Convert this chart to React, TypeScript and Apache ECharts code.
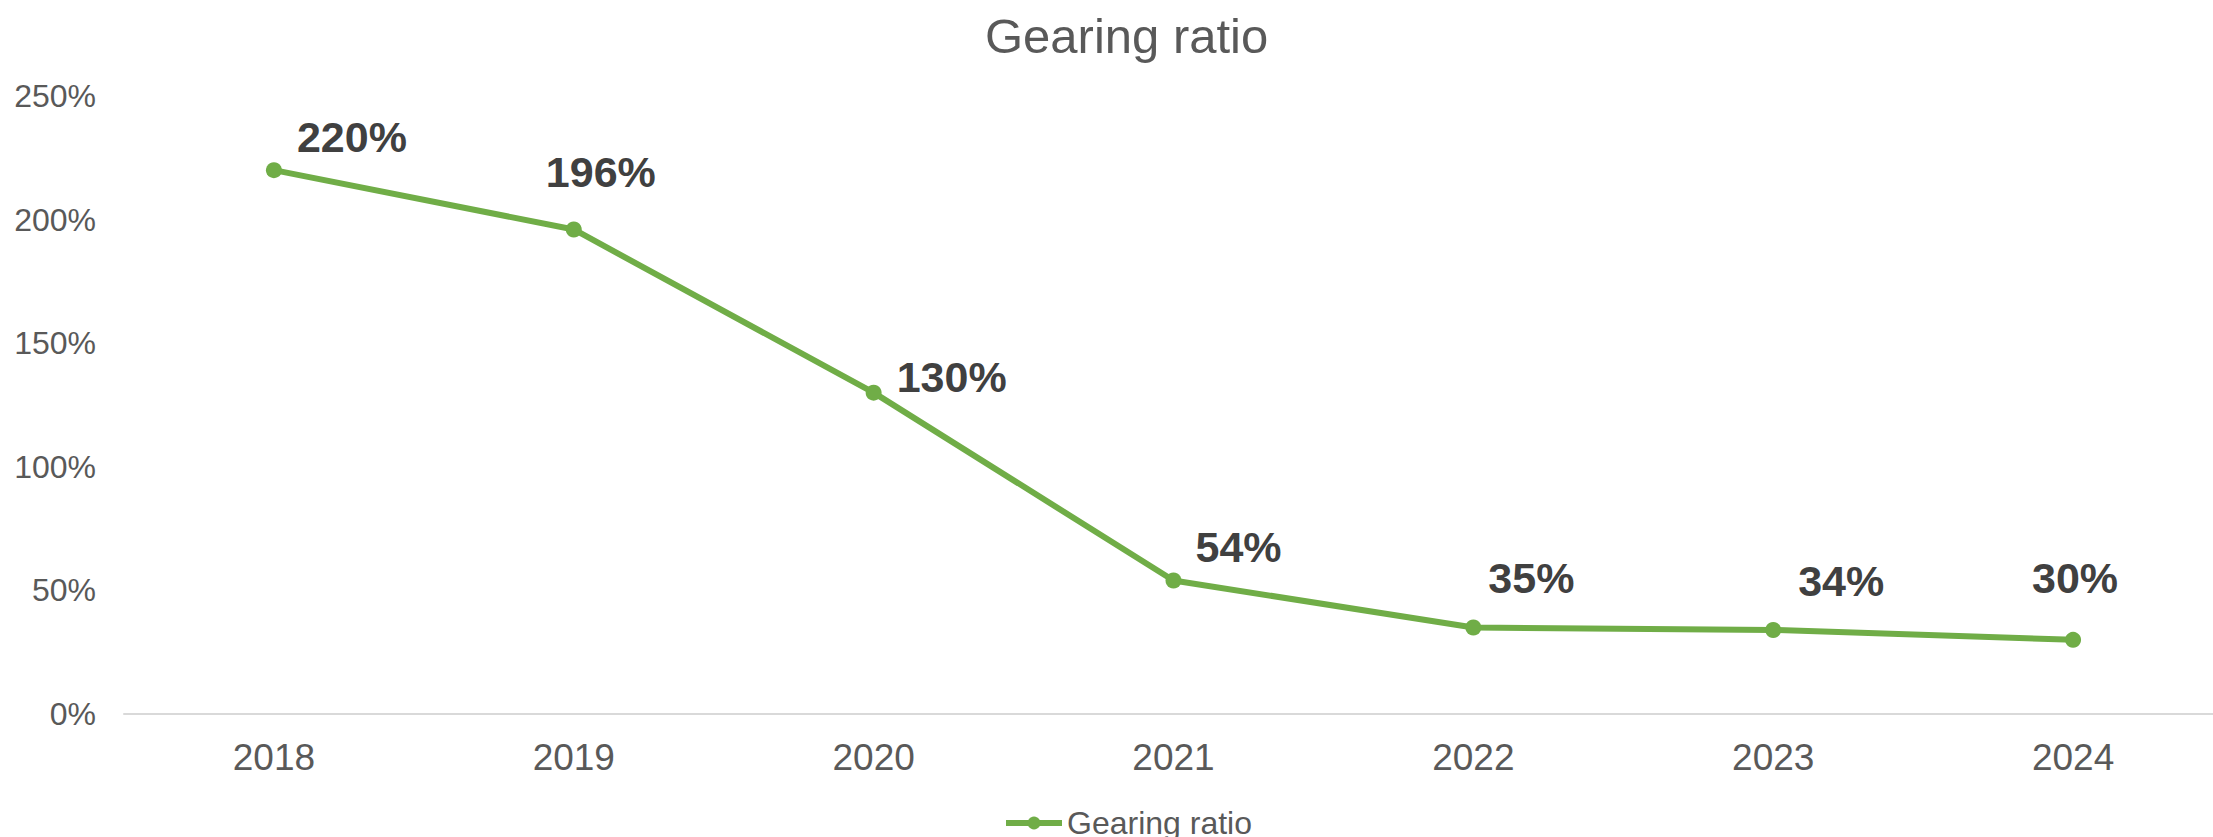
import React, { useEffect, useRef } from "react";
import * as echarts from "echarts";

const TITLE = "Gearing ratio";
const SERIES_NAME = "Gearing ratio";
const CATEGORIES = ["2018", "2019", "2020", "2021", "2022", "2023", "2024"];
const GEARING = [220, 196, 130, 54, 35, 34, 30];
const Y_MIN = 0;
const Y_MAX = 250;
const Y_INTERVAL = 50;

// label placement (style, pixel offsets from each point)
const LABEL_OFFSETS: [number, number][] = [
  [78, -33],
  [27, -57],
  [78, -16],
  [65, -34],
  [58, -49],
  [68, -49],
  [2, -62],
];

const FONT = "'Liberation Sans', Arial, sans-serif";
const GREEN = "#70AD47";

export default function App() {
  const ref = useRef<HTMLDivElement>(null);

  useEffect(() => {
    document.body.style.margin = "0";
    if (!ref.current) return;
    const chart = echarts.init(ref.current, undefined, { renderer: "svg" });
    chart.setOption({
      animation: false,
      backgroundColor: "#ffffff",
      textStyle: { fontFamily: FONT },
      title: {
        text: TITLE,
        left: 980,
        top: 6,
        textStyle: {
          fontFamily: FONT,
          fontSize: 49,
          fontWeight: "normal",
          color: "#595959",
        },
      },
      legend: {
        left: 998,
        top: 802,
        itemWidth: 56,
        itemHeight: 16,
        itemGap: 20,
        lineStyle: { width: 6 },
        itemStyle: { color: GREEN },
        textStyle: { fontFamily: FONT, fontSize: 32, color: "#595959" },
        data: [SERIES_NAME],
      },
      grid: {
        left: 124,
        width: 2099,
        top: 96,
        bottom: 123,
        containLabel: false,
        outerBoundsMode: "none",
      },
      xAxis: {
        type: "category",
        data: CATEGORIES,
        boundaryGap: true,
        axisLine: { show: true, lineStyle: { color: "#D9D9D9", width: 2 } },
        axisTick: { show: false },
        axisLabel: {
          fontFamily: FONT,
          fontSize: 37,
          color: "#595959",
          margin: 25,
        },
        splitLine: { show: false },
      },
      yAxis: {
        type: "value",
        min: Y_MIN,
        max: Y_MAX,
        interval: Y_INTERVAL,
        axisLine: { show: false },
        axisTick: { show: false },
        splitLine: { show: false },
        axisLabel: {
          fontFamily: FONT,
          fontSize: 32,
          color: "#595959",
          margin: 28,
          formatter: (v: number) => `${v}%`,
        },
      },
      series: [
        {
          name: SERIES_NAME,
          type: "line",
          data: GEARING.map((v, i) => ({
            value: v,
            label: {
              show: true,
              position: "inside",
              offset: LABEL_OFFSETS[i],
            },
          })),
          symbol: "circle",
          symbolSize: 16,
          lineStyle: { color: GREEN, width: 6 },
          itemStyle: { color: GREEN },
          label: {
            show: true,
            position: "inside",
            align: "center",
            verticalAlign: "middle",
            fontFamily: FONT,
            fontSize: 43,
            fontWeight: "bold",
            color: "#404040",
            formatter: (p: any) => `${p.value}%`,
          },
        },
      ],
    });
    return () => chart.dispose();
  }, []);

  return (
    <div
      ref={ref}
      style={{ position: "fixed", left: 0, top: 0, width: 2213, height: 837 }}
    />
  );
}
